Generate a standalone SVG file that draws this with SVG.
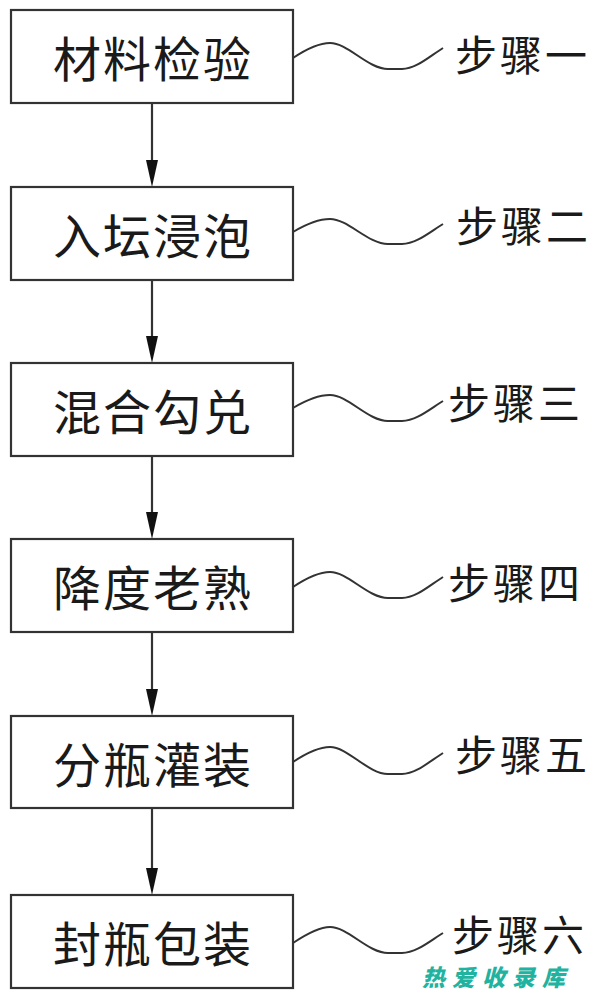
<svg xmlns="http://www.w3.org/2000/svg" width="600" height="1000" viewBox="0 0 600 1000">
<style>
.box{fill:#fff;stroke:#333;stroke-width:2.2}
.t{font-family:"Noto Sans CJK SC","Noto Sans",sans-serif;font-size:48px;fill:#1a1a1a;text-anchor:middle;dominant-baseline:central;letter-spacing:2px}
.lb{font-family:"Noto Sans CJK SC","Noto Sans",sans-serif;font-size:42px;fill:#1a1a1a;dominant-baseline:central;letter-spacing:3px}
.w{fill:none;stroke:#333;stroke-width:2}
.a{stroke:#333;stroke-width:2.2;fill:none}
.wm{font-family:"Noto Sans CJK SC",sans-serif;font-size:23px;font-weight:900;fill:#22b3a0;font-style:italic;letter-spacing:7px}
</style>
<rect width="600" height="1000" fill="#fff"/>
<g id="connectors">
<g class="a">
<line x1="152" y1="103" x2="152" y2="160"/>
<line x1="152" y1="280" x2="152" y2="336"/>
<line x1="152" y1="456" x2="152" y2="512"/>
<line x1="152" y1="632" x2="152" y2="689"/>
<line x1="152" y1="808" x2="152" y2="868"/>
</g>
<g fill="#111">
<polygon points="146,160 158,160 152,187"/>
<polygon points="146,336 158,336 152,363"/>
<polygon points="146,512 158,512 152,539"/>
<polygon points="146,689 158,689 152,716"/>
<polygon points="146,868 158,868 152,895"/>
</g>
<g class="w">
<path d="M293,58 C308,48 320,43 330,43 C348,43 368,69 388,69 L402,69 C416,69 430,56 443,48"/>
<path d="M293,232 C308,223 320,219 330,219 C348,219 368,244 388,244 L402,244 C416,244 430,232 443,224"/>
<path d="M293,408 C308,399 320,395 330,395 C348,395 368,421 388,421 L402,421 C416,421 430,409 443,401"/>
<path d="M293,587 C308,577 320,572 330,572 C348,572 368,598 388,598 L402,598 C416,598 430,585 443,577"/>
<path d="M293,762 C308,752 320,747 330,747 C348,747 368,774 388,774 L402,774 C416,774 430,761 443,753"/>
<path d="M293,943 C308,933 320,927 330,927 C348,927 368,953 388,953 L402,953 C416,953 430,941 443,933"/>
</g>
</g>
<g id="n1"><rect class="box" x="11" y="10" width="282" height="93"/><text class="t" x="153" y="56">材料检验</text></g>
<g id="n2"><rect class="box" x="11" y="187" width="282" height="93"/><text class="t" x="153" y="233">入坛浸泡</text></g>
<g id="n3"><rect class="box" x="11" y="363" width="282" height="93"/><text class="t" x="153" y="409">混合勾兑</text></g>
<g id="n4"><rect class="box" x="11" y="539" width="282" height="93"/><text class="t" x="153" y="585">降度老熟</text></g>
<g id="n5"><rect class="box" x="11" y="716" width="282" height="92"/><text class="t" x="153" y="762">分瓶灌装</text></g>
<g id="n6"><rect class="box" x="11" y="895" width="282" height="93"/><text class="t" x="153" y="941">封瓶包装</text></g>
<g id="labels">
<text class="lb" x="455" y="52">步骤一</text>
<text class="lb" x="456" y="223">步骤二</text>
<text class="lb" x="448" y="400">步骤三</text>
<text class="lb" x="448" y="580">步骤四</text>
<text class="lb" x="455" y="752">步骤五</text>
<text class="lb" x="452" y="932">步骤六</text>
</g>
<text class="wm" x="422" y="986">热爱收录库</text>
</svg>
